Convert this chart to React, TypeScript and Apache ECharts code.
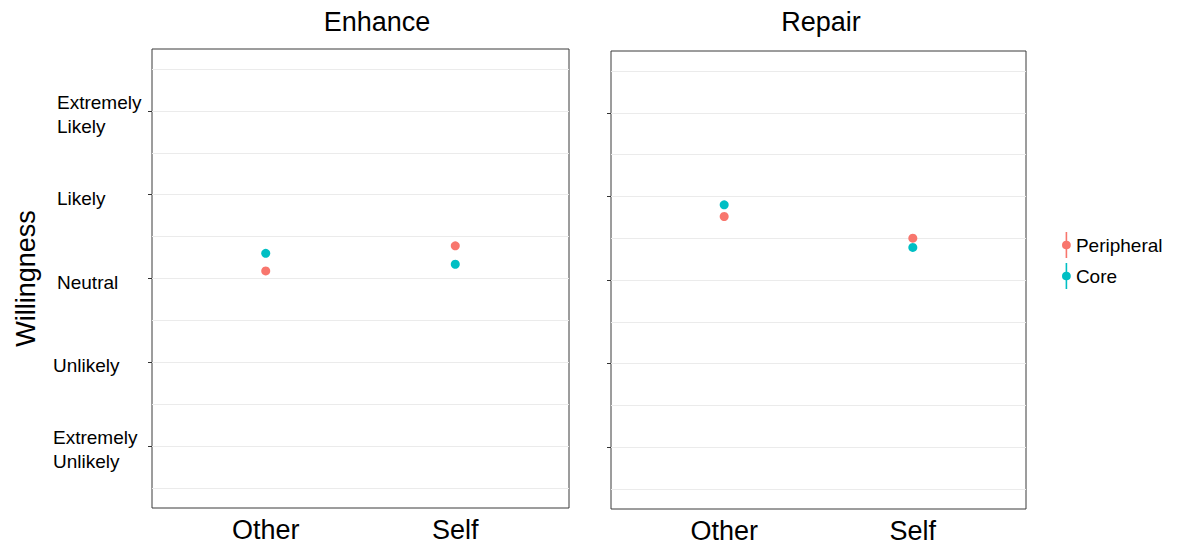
import React, { useEffect, useRef } from "react";
import * as echarts from "echarts";

// ---- data ----
const panels = ["Enhance", "Repair"];
const categories = ["Other", "Self"];
const groups = ["Peripheral", "Core"];
const yTickValues = [1, 2, 3, 4, 5];
const yTickLabels = ["Extremely\nUnlikely", "Unlikely", "Neutral", "Likely", "Extremely\nLikely"];
const gridLineValues = [0.5, 1, 1.5, 2, 2.5, 3, 3.5, 4, 4.5, 5, 5.5];
const enhancePeripheral = [3.09, 3.39];
const enhanceCore = [3.3, 3.17];
const repairPeripheral = [3.76, 3.5];
const repairCore = [3.9, 3.39];

const colors = ["#F8766D", "#00BFC4"];
const FONT = "'Liberation Sans', Arial, sans-serif";

const legendIcon =
  "path://M4.2,0L5.8,0L5.8,8.673A4.4,4.4,0,0,1,5.8,17.327L5.8,26L4.2,26L4.2,17.327A4.4,4.4,0,0,1,4.2,8.673Z";

export default function App() {
  const ref = useRef<HTMLDivElement>(null);

  useEffect(() => {
    if (!ref.current) return;
    const chart = echarts.init(ref.current, undefined, { renderer: "svg" });

    const panelData = [
      [enhancePeripheral, enhanceCore],
      [repairPeripheral, repairCore],
    ];

    const grids = [
      { left: 152, top: 49, width: 417, height: 459 },
      { left: 611, top: 51, width: 415, height: 458 },
    ].map((g) => ({
      ...g,
      show: true,
      borderColor: "#3a3a3a",
      borderWidth: 1,
      backgroundColor: "transparent",
      containLabel: false,
    }));

    const xAxes = panels.map((_, i) => ({
      type: "value",
      gridIndex: i,
      min: 0.4,
      max: 2.6,
      axisLine: { show: false },
      axisTick: { show: false },
      splitLine: { show: false },
      axisLabel: {
        customValues: categories.map((_, k) => k + 1),
        formatter: (v: number) => categories[Math.round(v) - 1] ?? "",
        fontSize: 27,
        fontFamily: FONT,
        color: "#000",
        margin: 22,
        verticalAlign: "middle",
      },
    }));

    const yLabelFormatter = (v: number) => {
      const idx = yTickValues.indexOf(Math.round(v));
      if (idx < 0 || Math.abs(v - Math.round(v)) > 1e-6) return "";
      const style = v >= 3 ? "a" : "b";
      return yTickLabels[idx]
        .split("\n")
        .map((s) => `{${style}|${s}}`)
        .join("\n");
    };

    const yAxes = panels.map((_, i) => ({
      type: "value",
      gridIndex: i,
      min: 0.26,
      max: 5.74,
      name: i === 0 ? "Willingness" : "",
      nameLocation: "middle",
      nameRotate: 90,
      nameGap: 113,
      nameTextStyle: { fontSize: 27, fontFamily: FONT, color: "#000" },
      axisLine: { show: false },
      splitLine: { show: false },
      axisTick: {
        show: true,
        customValues: yTickValues,
        length: 4,
        lineStyle: { color: "#333", width: 1 },
      },
      axisLabel: {
        show: i === 0,
        customValues: yTickValues,
        formatter: yLabelFormatter,
        align: "left",
        margin: 99,
        padding: [7, 0, 0, 0],
        color: "#000",
        fontSize: 19,
        fontFamily: FONT,
        rich: {
          a: { fontSize: 19, lineHeight: 23.5, fontFamily: FONT, color: "#000", padding: [0, 0, 0, 4] },
          b: { fontSize: 19, lineHeight: 23.5, fontFamily: FONT, color: "#000" },
        },
      },
    }));

    const series: any[] = [];
    panels.forEach((_, p) => {
      groups.forEach((g, gi) => {
        series.push({
          type: "scatter",
          name: g,
          xAxisIndex: p,
          yAxisIndex: p,
          z: 3,
          symbol: "circle",
          symbolSize: 9,
          itemStyle: { color: colors[gi], opacity: 1 },
          data: panelData[p][gi].map((v, k) => [k + 1, v]),
          markLine:
            gi === 0
              ? {
                  silent: true,
                  z: 1,
                  symbol: ["none", "none"],
                  label: { show: false },
                  lineStyle: { color: "#ebebeb", width: 1, type: "solid" },
                  emphasis: { disabled: true },
                  data: gridLineValues.map((y) => ({ yAxis: y })),
                }
              : undefined,
        });
      });
    });

    chart.setOption({
      animation: false,
      backgroundColor: "#fff",
      color: colors,
      title: [
        {
          text: panels[0],
          left: 377,
          top: 8,
          padding: 0,
          textAlign: "center",
          textStyle: { fontSize: 27, fontWeight: "normal", fontFamily: FONT, color: "#000", lineHeight: 27 },
        },
        {
          text: panels[1],
          left: 821,
          top: 8,
          padding: 0,
          textAlign: "center",
          textStyle: { fontSize: 27, fontWeight: "normal", fontFamily: FONT, color: "#000", lineHeight: 27 },
        },
      ],
      legend: {
        data: groups,
        orient: "vertical",
        left: 1062,
        top: 232,
        padding: 0,
        itemGap: 5,
        itemWidth: 9,
        itemHeight: 26,
        icon: legendIcon,
        selectedMode: false,
        textStyle: { fontSize: 19, fontFamily: FONT, color: "#000" },
      },
      grid: grids,
      xAxis: xAxes,
      yAxis: yAxes,
      series,
    });

    return () => chart.dispose();
  }, []);

  return (
    <div
      ref={ref}
      style={{ position: "fixed", left: 0, top: 0, width: 1182, height: 548, background: "#fff" }}
    />
  );
}
